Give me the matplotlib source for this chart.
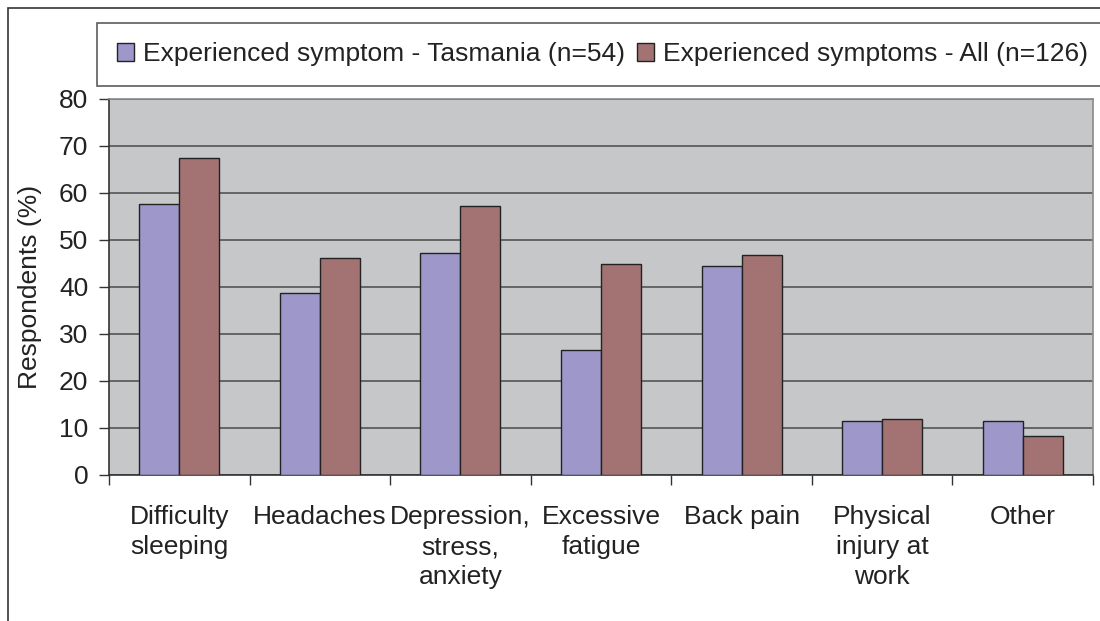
import matplotlib
matplotlib.use("Agg")
import matplotlib.pyplot as plt
import numpy as np
from matplotlib.patches import Rectangle

categories = ["Difficulty\nsleeping", "Headaches", "Depression,\nstress,\nanxiety",
              "Excessive\nfatigue", "Back pain", "Physical\ninjury at\nwork", "Other"]
tasmania = [57.6, 38.7, 47.2, 26.6, 44.5, 11.4, 11.5]
all_resp = [67.5, 46.1, 57.3, 44.8, 46.7, 11.8, 8.1]
series_labels = ["Experienced symptom - Tasmania (n=54)", "Experienced symptoms - All (n=126)"]
yticks = [0, 10, 20, 30, 40, 50, 60, 70, 80]

plt.rcParams['font.family'] = ['Liberation Sans', 'DejaVu Sans']
W, H = 1100, 621
fig = plt.figure(figsize=(W/100, H/100), dpi=100)
fig.patch.set_facecolor('white')

# outer chart border
fig.add_artist(Rectangle((7.5/W, -0.1), 1.2, 1 - 7.5/H + 0.1, transform=fig.transFigure,
                         fill=False, edgecolor='#333333', lw=1.2))

ax = fig.add_axes([109/W, 1 - 474.5/H, (1093-109)/W, (474.5-99)/H])
ax.set_facecolor('#C6C7C9')

x = np.arange(len(categories))
bw = 0.285
c1, c2 = '#9D97CA', '#A37373'
b1 = ax.bar(x - bw/2, tasmania, bw, color=c1, edgecolor='#222222', lw=1, zorder=3)
b2 = ax.bar(x + bw/2, all_resp, bw, color=c2, edgecolor='#222222', lw=1, zorder=3)

fs = 19
ax.set_xlim(-0.5, len(categories) - 0.5)
ax.set_ylim(0, 80)
ax.set_yticks(yticks)
ax.set_yticklabels([str(v) for v in yticks], fontsize=fs, color='#222222')
ax.yaxis.grid(True, color='#4a4a4a', lw=1.1, zorder=1)
ax.set_axisbelow(True)

ax.set_xticks(x)
ax.set_xticklabels(categories, fontsize=fs, color='#222222', linespacing=1.32, va='top')
ax.tick_params(axis='x', which='major', length=0, pad=22)
ax.set_xticks(np.arange(len(categories) + 1) - 0.5, minor=True)
ax.tick_params(axis='x', which='minor', length=7, width=1, color='#333333', direction='out')
ax.tick_params(axis='y', length=7, width=1, color='#333333', direction='out', pad=8)

for s in ['top', 'right']:
    ax.spines[s].set_color('#8a8a8a')
    ax.spines[s].set_linewidth(1.2)
for s in ['left', 'bottom']:
    ax.spines[s].set_color('#333333')
    ax.spines[s].set_linewidth(1.2)

ax.set_ylabel("Respondents (%)", fontsize=fs, color='#222222', labelpad=12)

leg = fig.legend([b1, b2], series_labels, loc='center',
                 bbox_to_anchor=((107+1098)/2/W, 1 - (22+87)/2/H),
                 ncol=2, fontsize=fs, frameon=True, fancybox=False,
                 handlelength=0.65, handleheight=0.65, handletextpad=0.35,
                 columnspacing=0.45, borderpad=0.75, borderaxespad=0,
                 labelcolor='#222222')
leg.get_frame().set_edgecolor('#333333')
leg.get_frame().set_linewidth(1.2)

fig.savefig("out.png", dpi=100)
